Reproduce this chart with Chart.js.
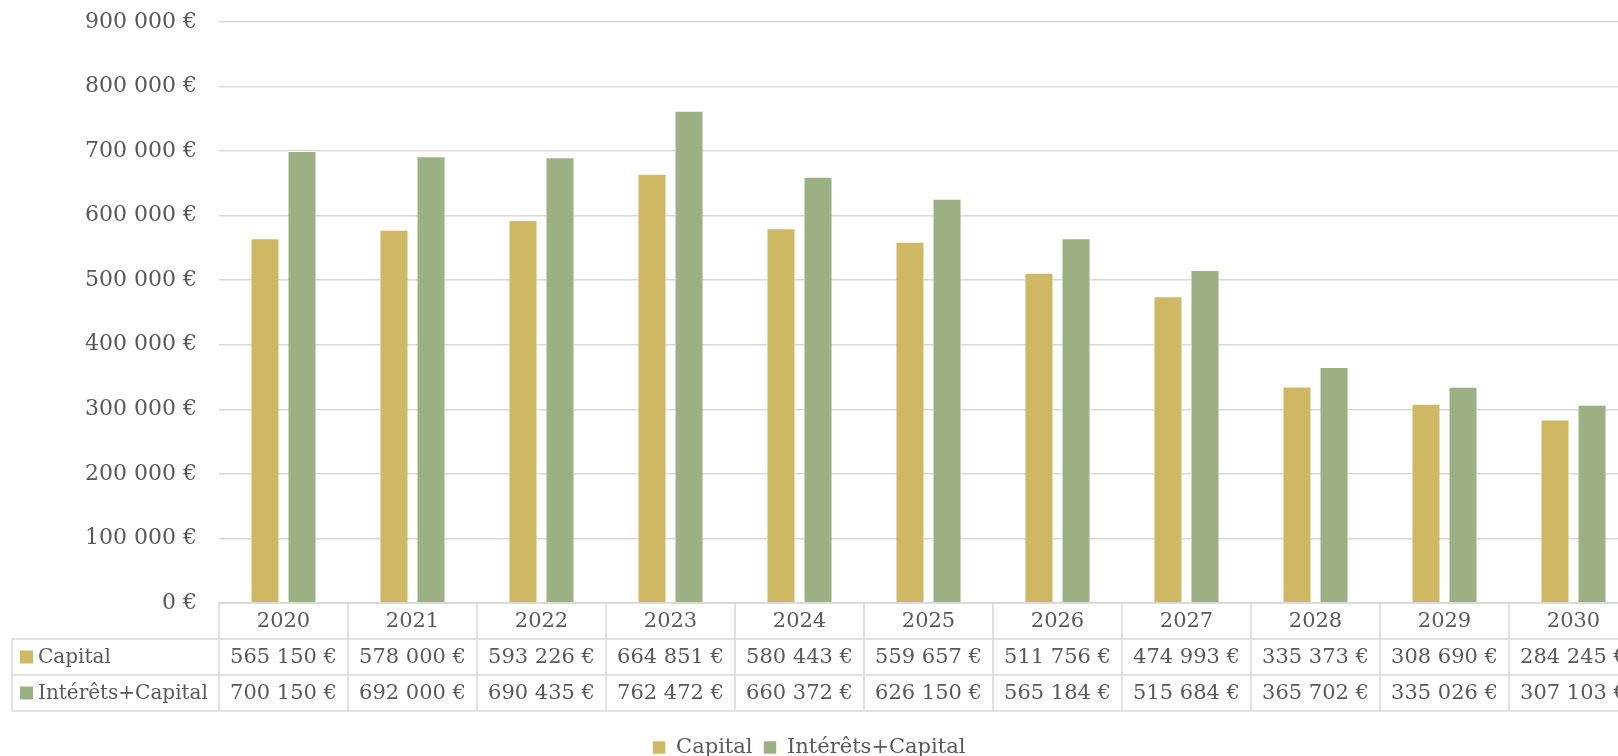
<!DOCTYPE html>
<html>
<head>
<meta charset="utf-8">
<script src="https://cdn.jsdelivr.net/npm/chart.js@4/dist/chart.umd.min.js"></script>
<style>
    html, body { margin: 0; padding: 0; background: #ffffff; overflow: hidden; }
    #chart { display: block; }
</style>
</head>
<body>
<canvas id="chart" width="1618" height="768"></canvas>
<script>
// values
var years = ['2020', '2021', '2022', '2023', '2024', '2025', '2026', '2027', '2028', '2029', '2030'];
var capital = [565150, 578000, 593226, 664851, 580443, 559657, 511756, 474993, 335373, 308690, 284245];
var interetsCapital = [700150, 692000, 690435, 762472, 660372, 626150, 565184, 515684, 365702, 335026, 307103];
var seriesNames = ['Capital', 'Intérêts+Capital'];
var seriesColors = ['#CEB864', '#9DB084'];

var FONT = '"DejaVu Serif", Georgia, serif';
var TEXT = '#595959';
var LINE = '#D9D9D9';
var COL_W = 129;

function euro(v) {
    return String(Math.round(v)).replace(/\B(?=(\d{3})+(?!\d))/g, ' ') + ' €';
}

function toPoints(arr) {
    return arr.map(function (v, i) { return { x: i, y: v }; });
}

// data table under the plot, drawn from the same arrays, one column per year
var dataTable = {
    id: 'dataTable',
    afterDraw: function (chart) {
        var ctx = chart.ctx;
        var x = chart.scales.x;
        var area = chart.chartArea;
        var top = area.bottom;
        var rowH = 36;
        var left = 12;
        var right = chart.width + 40;
        var rows = [capital, interetsCapital];

        ctx.save();
        ctx.strokeStyle = LINE;
        ctx.lineWidth = 1.5;
        ctx.beginPath();
        ctx.moveTo(area.left, top); ctx.lineTo(right, top);
        for (var r = 1; r <= 3; r++) {
            ctx.moveTo(left, top + rowH * r); ctx.lineTo(right, top + rowH * r);
        }
        ctx.moveTo(left, top + rowH); ctx.lineTo(left, top + rowH * 3);
        for (var i = 0; i <= years.length; i++) {
            var bx = x.getPixelForValue(i - 0.5);
            ctx.moveTo(bx, top); ctx.lineTo(bx, top + rowH * 3);
        }
        ctx.stroke();

        ctx.fillStyle = TEXT;
        ctx.font = '21px ' + FONT;
        ctx.textBaseline = 'middle';
        ctx.textAlign = 'center';
        years.forEach(function (yr, i) {
            var cx = x.getPixelForValue(i);
            ctx.fillText(yr, cx, top + rowH / 2 + 1);
            rows.forEach(function (arr, r) {
                ctx.fillText(euro(arr[i]), cx, top + rowH * (r + 1) + rowH / 2 + 1);
            });
        });

        ctx.textAlign = 'left';
        ctx.font = '20px ' + FONT;
        seriesNames.forEach(function (name, r) {
            var cy = top + rowH * (r + 1) + rowH / 2;
            ctx.fillStyle = seriesColors[r];
            ctx.fillRect(20, cy - 6.5, 13, 13);
            ctx.fillStyle = TEXT;
            ctx.fillText(name, 38, cy + 1);
        });
        ctx.restore();
    }
};

var ctx = document.getElementById('chart').getContext('2d');
window.chart = new Chart(ctx, {
    type: 'bar',
    data: {
        datasets: [
            {
                label: seriesNames[0],
                data: toPoints(capital),
                backgroundColor: seriesColors[0],
                borderColor: 'rgba(255,255,255,0.6)',
                borderWidth: 1,
                categoryPercentage: 0.574,
                barPercentage: 0.784
            },
            {
                label: seriesNames[1],
                data: toPoints(interetsCapital),
                backgroundColor: seriesColors[1],
                borderColor: 'rgba(255,255,255,0.6)',
                borderWidth: 1,
                categoryPercentage: 0.574,
                barPercentage: 0.784
            }
        ]
    },
    options: {
        responsive: false,
        animation: false,
        devicePixelRatio: 1,
        layout: { padding: { top: 22, left: 0, right: 0, bottom: 0 } },
        scales: {
            x: {
                type: 'linear',
                offset: false,
                min: -0.5,
                max: -0.5 + (1618 - 219) / COL_W,
                ticks: { display: false, stepSize: 1, includeBounds: false },
                grid: { display: false },
                border: { display: false },
                afterFit: function (scale) { scale.height = 123; }
            },
            y: {
                min: 0,
                max: 900000,
                ticks: {
                    stepSize: 100000,
                    padding: 0,
                    color: TEXT,
                    font: { family: FONT, size: 22 },
                    callback: function (v) { return euro(v); }
                },
                // invisible tick marks keep the labels 22px off the plot
                grid: { color: LINE, lineWidth: 1.5, drawTicks: true, tickLength: 22, tickColor: 'rgba(0,0,0,0)' },
                border: { display: false },
                afterFit: function (scale) { scale.width = 219; }
            }
        },
        plugins: {
            legend: {
                position: 'bottom',
                labels: {
                    boxWidth: 13,
                    boxHeight: 13,
                    padding: 11,
                    color: TEXT,
                    font: { family: FONT, size: 21 }
                }
            },
            tooltip: { enabled: false }
        }
    },
    plugins: [dataTable]
});
</script>
</body>
</html>
